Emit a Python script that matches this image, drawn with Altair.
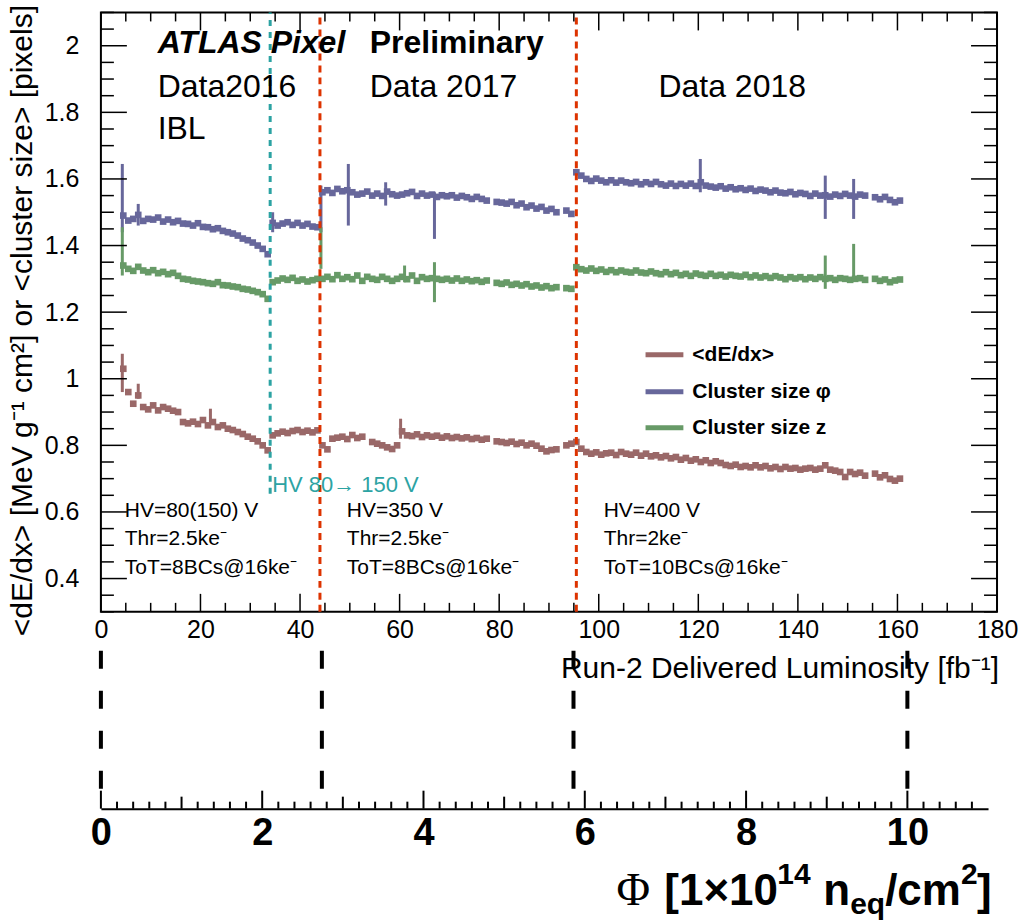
import altair as alt
import pandas as pd

FONT = "Liberation Sans"

# ---------------- data ----------------
SERIES = ["<dE/dx>", "Cluster size φ", "Cluster size z"]
COLORS = ["#9a6868", "#67679b", "#679a67"]

# luminosity grid: one point per fb^-1 from 4.5 to 160.5
LUMI = [4.5 + i for i in range(157)]

PHI_2016A = [1.490, 1.475, 1.480, 1.492, 1.474, 1.480, 1.478, 1.484, 1.472, 1.478,
             1.470, 1.474, 1.466, 1.465, 1.460, 1.467, 1.456, 1.455, 1.449, 1.452,
             1.444, 1.440, 1.436, 1.430, 1.421, 1.416, 1.409, 1.400, 1.390, 1.374]
PHI_2016B = [1.468, 1.460, 1.466, 1.470, 1.462, 1.468, 1.460, 1.465, 1.457, 1.455]
PHI_2017 = [1.560, 1.566, 1.558, 1.570, 1.563, 1.566, 1.560, 1.553, 1.556, 1.562,
            1.550, 1.556, 1.549, 1.562, 1.554, 1.550, 1.553, 1.557, 1.561, 1.549,
            1.556, 1.550, 1.553, 1.546, 1.551, 1.548, 1.551, 1.544, 1.549, 1.545,
            1.540, 1.546, 1.540, 1.535, None, 1.531, 1.529, 1.526, 1.531, 1.521,
            1.526, 1.515, 1.520, 1.511, 1.516, 1.505, 1.510, 1.500, None, 1.505,
            1.495]
PHI_2018 = [1.620, 1.610, 1.600, 1.594, 1.601, 1.595, 1.590, 1.596, 1.589, 1.595,
            1.590, 1.587, 1.591, 1.584, 1.590, 1.585, 1.591, 1.584, 1.580, 1.586,
            1.579, 1.585, 1.580, 1.586, 1.579, 1.590, 1.580, 1.577, 1.574, 1.578,
            1.571, 1.575, 1.569, 1.572, 1.567, 1.571, 1.564, 1.568, 1.565, 1.560,
            1.565, 1.559, 1.557, 1.561, 1.554, 1.558, 1.555, 1.549, 1.556, 1.550,
            1.551, 1.547, 1.553, 1.549, 1.555, 1.550, 1.547, 1.553, 1.550, None,
            1.545, 1.539, 1.546, 1.537, 1.530, 1.535]

Z_2016A = [1.340, 1.330, 1.324, 1.336, 1.325, 1.320, 1.326, 1.317, 1.321, 1.314,
           1.318, 1.309, 1.300, 1.298, 1.294, 1.292, 1.290, 1.287, 1.285, 1.290,
           1.281, 1.280, 1.277, 1.275, 1.270, 1.268, 1.264, 1.260, 1.254, 1.240]
Z_2016B = [1.290, 1.295, 1.301, 1.297, 1.303, 1.294, 1.298, 1.292, 1.296, 1.300]
Z_2017 = [1.300, 1.306, 1.299, 1.311, 1.300, 1.305, 1.299, 1.310, 1.294, 1.306,
          1.300, 1.297, 1.306, 1.300, 1.294, 1.300, 1.306, 1.299, 1.310, 1.294,
          1.305, 1.300, 1.302, 1.300, 1.297, 1.300, 1.295, 1.301, 1.294, 1.298,
          1.293, 1.296, 1.291, 1.295, None, 1.288, 1.285, 1.289, 1.282, 1.285,
          1.280, 1.284, 1.277, 1.280, 1.274, 1.278, 1.272, 1.275, None, 1.272,
          1.270]
Z_2018 = [1.335, 1.329, 1.325, 1.331, 1.324, 1.328, 1.321, 1.326, 1.320, 1.325,
          1.321, 1.319, 1.325, 1.319, 1.317, 1.322, 1.317, 1.314, 1.320, 1.314,
          1.318, 1.311, 1.315, 1.309, 1.316, 1.312, 1.309, 1.315, 1.309, 1.312,
          1.307, 1.312, 1.309, 1.307, 1.312, 1.305, 1.310, 1.304, 1.308, 1.303,
          1.308, 1.304, 1.299, 1.305, 1.301, 1.305, 1.299, 1.304, 1.300, 1.305,
          1.300, 1.302, 1.297, 1.302, 1.300, 1.297, 1.300, 1.302, 1.297, None,
          1.300, 1.294, 1.298, 1.290, 1.295, 1.298]

DEDX_2016A = [1.030, 0.960, 0.925, 0.950, 0.915, 0.908, 0.920, 0.905, 0.915, 0.910,
              0.904, 0.900, 0.870, 0.866, 0.871, 0.864, 0.876, 0.860, 0.870, 0.855,
              0.860, 0.850, 0.846, 0.840, 0.834, 0.826, 0.820, 0.812, 0.800, 0.785]
DEDX_2016B = [0.830, 0.836, 0.841, 0.837, 0.843, 0.846, 0.840, 0.844, 0.839, 0.845]
DEDX_2017 = [0.800, 0.788, 0.820, 0.823, 0.826, 0.819, 0.831, 0.822, 0.826, None,
             0.810, 0.805, 0.800, 0.794, 0.789, 0.800, 0.842, 0.830, 0.828, 0.833,
             0.825, 0.830, 0.826, 0.829, 0.823, 0.827, 0.822, 0.825, 0.821, 0.824,
             0.819, 0.822, 0.817, 0.820, None, 0.812, 0.810, 0.807, 0.811, 0.804,
             0.808, 0.800, 0.805, 0.799, 0.790, 0.782, 0.786, 0.788, None, 0.800,
             0.805]
DEDX_2018 = [0.810, 0.790, 0.780, 0.775, 0.779, 0.772, 0.776, 0.778, 0.771, 0.780,
             0.775, 0.772, 0.778, 0.769, 0.775, 0.767, 0.770, 0.764, 0.768, 0.761,
             0.765, 0.757, 0.762, 0.754, 0.758, 0.750, 0.755, 0.747, 0.752, 0.747,
             0.741, 0.738, 0.742, 0.735, 0.738, 0.734, 0.740, 0.734, 0.738, 0.731,
             0.735, 0.729, 0.735, 0.730, 0.732, 0.727, 0.730, 0.732, 0.727, 0.730,
             0.740, 0.727, 0.724, 0.720, 0.705, 0.720, 0.714, 0.718, 0.709, None,
             0.715, 0.704, 0.710, 0.699, 0.694, 0.700]

# large fluctuations (vertical spikes): series, lumi, low, high
SPIKE_SERIES = ["Cluster size φ"] * 10 + ["Cluster size z"] * 6 + ["<dE/dx>"] * 4
SPIKE_LUMI = [4.3, 7.5, 34.5, 44.2, 49.7, 57.2, 67.0, 120.4, 145.5, 151.2,
              4.3, 44.2, 61.0, 67.0, 145.5, 151.2,
              4.3, 7.5, 22.0, 60.2]
SPIKE_LO = [1.44, 1.46, 1.44, 1.44, 1.46, 1.52, 1.42, 1.56, 1.48, 1.48,
            1.31, 1.33, 1.29, 1.23, 1.27, 1.30,
            0.96, 0.94, 0.87, 0.82]
SPIKE_HI = [1.645, 1.525, 1.50, 1.58, 1.645, 1.59, 1.56, 1.66, 1.61, 1.60,
            1.455, 1.455, 1.34, 1.35, 1.37, 1.405,
            1.075, 0.985, 0.91, 0.88]

HV_CHANGE = [34.0]          # HV 80 -> 150 V
YEAR_BOUNDS = [44.0, 95.5]  # start of 2017, start of 2018
PHI_BOUNDS = [0.0, 2.74, 5.86, 10.0]

X_LABELS = [0, 20, 40, 60, 80, 100, 120, 140, 160, 180]
Y_LABELS = [0.4, 0.6, 0.8, 1.0, 1.2, 1.4, 1.6, 1.8, 2.0]
PHI_LABELS = [0, 2, 4, 6, 8, 10]

# ---------------- tables ----------------
PHI = PHI_2016A + PHI_2016B + PHI_2017 + PHI_2018
ZZ = Z_2016A + Z_2016B + Z_2017 + Z_2018
DEDX = DEDX_2016A + DEDX_2016B + DEDX_2017 + DEDX_2018
rows = []
for name, vals in zip(SERIES, [DEDX, PHI, ZZ]):
    for x, v in zip(LUMI, vals):
        if v is not None:
            rows.append({"lumi": x, "value": v, "series": name})
df = pd.DataFrame(rows)
spk = pd.DataFrame({"series": SPIKE_SERIES, "lumi": SPIKE_LUMI,
                    "value": SPIKE_LO, "value2": SPIKE_HI})

W, H = 897, 600
X_SCALE = alt.Scale(domain=[0, 180], nice=False, zero=False)
Y_SCALE = alt.Scale(domain=[0.3, 2.1], nice=False, zero=False)
COLOR = alt.Color("series:N", scale=alt.Scale(domain=SERIES, range=COLORS), legend=None)

x_axis = alt.Axis(values=X_LABELS, ticks=False, domain=False, grid=False,
                  labelFontSize=25, labelPadding=6, labelFlush=False,
                  labelColor="black", labelFont=FONT, title=None)
y_axis = alt.Axis(values=Y_LABELS, format="~g", ticks=False, domain=False, grid=False,
                  labelFontSize=25, labelPadding=22, labelColor="black", labelFont=FONT,
                  title="<dE/dx> [MeV g⁻¹ cm²] or <cluster size> [pixels]",
                  titleFontSize=30, titleFontWeight="normal", titleColor="black",
                  titleFont=FONT, titlePadding=7, titleY=308)

X = lambda f="lumi": alt.X(f + ":Q", scale=X_SCALE)
Y = lambda f="value": alt.Y(f + ":Q", scale=Y_SCALE)

points = alt.Chart(df).mark_square(size=44, opacity=1).encode(
    x=alt.X("lumi:Q", scale=X_SCALE, axis=x_axis),
    y=alt.Y("value:Q", scale=Y_SCALE, axis=y_axis),
    color=COLOR)

spikes = alt.Chart(spk).mark_rule(strokeWidth=3).encode(
    x=X(), y=Y(), y2="value2:Q", color=COLOR)

teal = alt.Chart(pd.DataFrame({"lumi": HV_CHANGE, "value": [0.655], "value2": [2.1]})).mark_rule(
    color="#2ca3a3", strokeWidth=3, strokeDash=[6, 6]).encode(x=X(), y=Y(), y2="value2:Q")
red = alt.Chart(pd.DataFrame({"lumi": YEAR_BOUNDS, "value": [0.3, 0.3], "value2": [2.1, 2.1]})).mark_rule(
    color="#dd3300", strokeWidth=3, strokeDash=[7, 5]).encode(x=X(), y=Y(), y2="value2:Q")

# inside-pointing ticks on the frame
x_major = [v for v in X_LABELS]
x_minor = [v for v in range(0, 181, 5) if v % 20]
y_major = Y_LABELS
y_minor = [round(0.3 + 0.05 * i, 2) for i in range(37) if round((0.3 + 0.05 * i) * 100) % 20]


def xticks(vals, length):
    d = pd.DataFrame({"lumi": vals})
    b = alt.Chart(d).mark_rule(color="black", strokeWidth=1.5).encode(
        x=X(), y=alt.value(H - length), y2=alt.value(H))
    t = alt.Chart(d).mark_rule(color="black", strokeWidth=1.5).encode(
        x=X(), y=alt.value(0), y2=alt.value(length))
    return [b, t]


def yticks(vals, length):
    d = pd.DataFrame({"value": vals})
    l = alt.Chart(d).mark_rule(color="black", strokeWidth=1.5).encode(
        y=Y(), x=alt.value(0), x2=alt.value(length))
    r = alt.Chart(d).mark_rule(color="black", strokeWidth=1.5).encode(
        y=Y(), x=alt.value(W - length), x2=alt.value(W))
    return [l, r]


def txt(x, y, s, size, weight="normal", style="normal", color="black", font=FONT):
    return alt.Chart(pd.DataFrame({"lumi": [x], "value": [y], "t": [s]})).mark_text(
        align="left", baseline="middle", fontSize=size, fontWeight=weight,
        fontStyle=style, color=color, font=font).encode(x=X(), y=Y(), text="t:N")


texts = [
    txt(11.4, 2.009, "ATLAS Pixel", 32, "bold", "italic"),
    txt(54.0, 2.009, "Preliminary", 32, "bold"),
    txt(11.4, 1.877, "Data2016", 32),
    txt(54.0, 1.877, "Data 2017", 32),
    txt(112.0, 1.877, "Data 2018", 32),
    txt(11.4, 1.750, "IBL", 32),
    txt(34.4, 0.682, "HV 80→ 150 V", 22, color="#2ca3a3"),
    txt(4.8, 0.604, "HV=80(150) V", 21),
    txt(4.8, 0.520, "Thr=2.5ke⁻", 21),
    txt(4.8, 0.432, "ToT=8BCs@16ke⁻", 21),
    txt(49.4, 0.604, "HV=350 V", 21),
    txt(49.4, 0.520, "Thr=2.5ke⁻", 21),
    txt(49.4, 0.432, "ToT=8BCs@16ke⁻", 21),
    txt(101.0, 0.604, "HV=400 V", 21),
    txt(101.0, 0.520, "Thr=2ke⁻", 21),
    txt(101.0, 0.432, "ToT=10BCs@16ke⁻", 21),
]

LEG_Y = [1.072, 0.961, 0.853]
leg = pd.DataFrame({"series": SERIES, "lumi": [109.4] * 3, "lumi2": [117.0] * 3,
                    "value": LEG_Y, "tx": [118.8] * 3})
leg_lines = alt.Chart(leg).mark_rule(strokeWidth=5).encode(
    x=X(), x2="lumi2:Q", y=Y(), color=COLOR)
leg_text = alt.Chart(leg).mark_text(align="left", baseline="middle", fontSize=21,
                                    fontWeight="bold", color="black", font=FONT).encode(
    x=alt.X("tx:Q", scale=X_SCALE), y=Y(), text="series:N")

top = alt.layer(
    points, spikes, teal, red,
    *xticks(x_major, 18), *xticks(x_minor, 9),
    *yticks(y_major, 26), *yticks(y_minor, 13),
    *texts, leg_lines, leg_text,
).properties(width=W, height=H, view=alt.ViewBackground(stroke="black", strokeWidth=2))

# ---------------- lower fluence axis ----------------
W2, H2 = 888, 162
TOP2 = 645  # page y of lower panel top
LEFT2 = 101
PHI_SCALE = alt.Scale(domain=[0, 11], nice=False, zero=False)
phi_axis = alt.Axis(values=PHI_LABELS, format="d", ticks=False, domain=True,
                    domainColor="black", domainWidth=2, grid=False, labelFontSize=38,
                    labelFontWeight="bold", labelPadding=6, labelFlush=False,
                    labelColor="black", labelFont=FONT, title=None)


def phiticks(vals, length):
    return alt.Chart(pd.DataFrame({"phi": vals})).mark_rule(
        color="black", strokeWidth=2).encode(
        x=alt.X("phi:Q", scale=PHI_SCALE), y=alt.value(H2 - length), y2=alt.value(H2))


phi_major = PHI_LABELS
phi_mid = [1, 3, 5, 7, 9]
phi_minor = [round(0.2 * i, 1) for i in range(56) if i % 5]

bounds = alt.Chart(pd.DataFrame({"phi": PHI_BOUNDS})).mark_rule(
    color="black", strokeWidth=4, strokeDash=[18, 22]).encode(
    x=alt.X("phi:Q", scale=PHI_SCALE, axis=phi_axis), y=alt.value(4), y2=alt.value(H2))


def ptxt(px, py, s, size, weight="bold", font=FONT, align="left"):
    return alt.Chart(pd.DataFrame({"t": [s]})).mark_text(
        align=align, baseline="alphabetic", fontSize=size, fontWeight=weight,
        font=font, color="black").encode(
        x=alt.value(px - LEFT2), y=alt.value(py - TOP2), text="t:N")


phi_title = [
    ptxt(617, 903, "Φ", 46, "normal", "Liberation Serif"),
    ptxt(665, 903, "[1×10", 44),
    ptxt(778, 882, "14", 30),
    ptxt(824, 903, "n", 44),
    ptxt(851, 912, "eq", 30),
    ptxt(886, 903, "/cm", 44),
    ptxt(962, 882, "2", 30),
    ptxt(978, 903, "]", 44),
    ptxt(1000, 676, "Run-2 Delivered Luminosity [fb⁻¹]", 30, "normal", FONT, "right"),
]

bottom = alt.layer(
    bounds, phiticks(phi_major, 18), phiticks(phi_mid, 12), phiticks(phi_minor, 7),
    *phi_title,
).properties(width=W2, height=H2, view=alt.ViewBackground(stroke="transparent"))

chart = alt.vconcat(top, bottom, spacing=2).properties(
    padding={"left": 6, "top": 3, "right": 0, "bottom": 0}
).configure(font=FONT, background="white")

chart.save("out.html", embed_options={"renderer": "svg", "actions": False})
